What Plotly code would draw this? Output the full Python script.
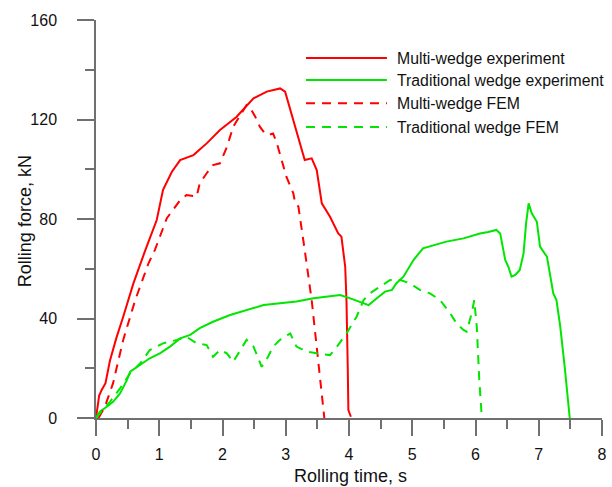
import plotly.graph_objects as go

# ---- data ----
multi_exp_t = [0, 0.05, 0.09, 0.15, 0.22, 0.32, 0.43, 0.59, 0.78, 0.96, 1.06, 1.2, 1.33, 1.54, 1.75,
               1.96, 2.22, 2.49, 2.70, 2.91, 2.99, 3.12, 3.23, 3.30, 3.41, 3.49, 3.57, 3.70, 3.83,
               3.88, 3.94, 3.96, 3.98, 3.99, 4.03]
multi_exp_f = [0, 9, 11.3, 14, 23, 32, 40.7, 54, 67.5, 79.6, 91.7, 99, 103.7, 105.7, 110.4,
               115.8, 121, 128.5, 131.2, 132.5, 131.2, 119.8, 110.4, 103.7, 104.4, 99.7, 86.3, 80.9, 74.2,
               72.9, 60.8, 47.4, 20.6, 3.2, 0.5]

multi_fem_t = [0.04, 0.08, 0.14, 0.27, 0.43, 0.62, 0.83, 0.93, 1.12, 1.33, 1.43, 1.59, 1.64, 1.75,
               1.85, 1.96, 2.07, 2.17, 2.28, 2.38, 2.43, 2.52, 2.59, 2.67, 2.73, 2.80, 2.86, 2.96,
               3.01, 3.12, 3.15, 3.20, 3.25, 3.30, 3.41, 3.49, 3.59, 3.61]
multi_fem_f = [0, 2, 4.5, 14, 31.4, 47.4, 62.2, 67.5, 80.3, 87.6, 89.6, 89, 94.3, 98.4,
               101.7, 102.4, 109, 117.1, 121.8, 125.8, 125.1, 121, 117.1, 114.4, 113.8, 114.4, 110.4, 101,
               97, 90.3, 86.3, 85, 76.9, 67.5, 47.4, 27.3, 4.5, 0]

trad_exp_t = [0, 0.06, 0.17, 0.27, 0.38, 0.49, 0.54, 0.70, 0.85, 1.01, 1.17, 1.33, 1.49, 1.64, 1.85,
              2.12, 2.38, 2.65, 2.91, 3.17, 3.44, 3.65, 3.86, 4.02, 4.17, 4.31, 4.44, 4.57, 4.68,
              4.75, 4.86, 5.02, 5.17, 5.33, 5.54, 5.81, 6.07, 6.20, 6.33, 6.39, 6.47, 6.52, 6.57,
              6.63, 6.70, 6.76, 6.80, 6.84, 6.89, 6.97, 7.02, 7.13, 7.23, 7.28, 7.34, 7.41, 7.49]
trad_exp_f = [0, 2.5, 4.5, 6.5, 9.9, 15.3, 18.6, 21.3, 24, 26, 28.7, 32, 33.4, 36.1, 38.7,
              41.4, 43.4, 45.4, 46.1, 46.8, 48.1, 48.8, 49.4, 48.1, 46.8, 45.4, 48.1, 50.8, 51.5,
              54.2, 56.8, 63.5, 68.2, 69.5, 70.9, 72.2, 74.2, 74.8, 75.6, 74.2, 63.5, 60.8, 56.8,
              57.5, 59.5, 66.2, 78.3, 86.3, 82.3, 78.9, 68.9, 64.8, 50.1, 47.4, 36.7, 20.6, 0]

trad_fem_t = [0, 0.22, 0.38, 0.54, 0.70, 0.85, 1.06, 1.28, 1.43, 1.59, 1.75, 1.85, 1.96, 2.07,
              2.17, 2.28, 2.38, 2.49, 2.62, 2.72, 2.80, 2.91, 3.07, 3.17, 3.33, 3.49, 3.70, 3.81,
              3.96, 4.12, 4.23, 4.33, 4.49, 4.65, 4.81, 4.96, 5.12, 5.28, 5.44, 5.60, 5.70, 5.81,
              5.86, 5.94, 5.98, 6.02, 6.06, 6.10]
trad_fem_f = [0, 6.5, 11.9, 18, 22, 27.3, 30, 31.4, 32.7, 30, 29.3, 24.6, 27.3, 26,
              22.6, 27.3, 31.4, 28.7, 20.6, 24.6, 28.7, 31.4, 34, 28.7, 26.7, 26, 25.3, 28.7,
              34, 40.7, 47.4, 50.1, 52.8, 55.5, 55.5, 54.2, 51.5, 50.1, 47.4, 42.1, 38, 35.4,
              34.7, 42.1, 47.4, 36.7, 15.3, 0]

series_names = ["Multi-wedge experiment", "Traditional wedge experiment",
                "Multi-wedge FEM", "Traditional wedge FEM"]
x_title = "Rolling time, s"
y_title = "Rolling force, kN"

RED = "#FF0000"
GREEN = "#00E600"
DASH = "9px,7px"
FONT = "Liberation Sans, Arial, sans-serif"
TXT = "#111"

series = [
    (multi_exp_t, multi_exp_f, RED, "solid"),
    (trad_exp_t, trad_exp_f, GREEN, "solid"),
    (multi_fem_t, multi_fem_f, RED, DASH),
    (trad_fem_t, trad_fem_f, GREEN, DASH),
]

fig = go.Figure()
for (t, f, c, d), name in zip(series, series_names):
    fig.add_trace(go.Scatter(x=t, y=f, mode="lines", name=name, hoverinfo="skip",
                             line=dict(color=c, width=2, dash=d), showlegend=False))

# custom legend (long sample lines as in the original)
leg_rows = [0.9045, 0.849, 0.791, 0.731]
for (t, f, c, d), name, yy in zip(series, series_names, leg_rows):
    fig.add_shape(type="line", xref="paper", yref="paper", x0=0.415, x1=0.575, y0=yy, y1=yy,
                  line=dict(color=c, width=2, dash=d))
    fig.add_annotation(xref="paper", yref="paper", x=0.591, y=yy, text=name, showarrow=False,
                       xanchor="left", yanchor="middle", font=dict(size=15.8, color=TXT, family=FONT))

# axis titles as annotations (precise placement)
fig.add_annotation(xref="paper", yref="paper", x=-0.140, y=0.495, text=y_title, showarrow=False,
                   textangle=-90, xanchor="center", yanchor="middle",
                   font=dict(size=18, color=TXT, family=FONT))
fig.add_annotation(xref="paper", yref="paper", x=0.503, y=-0.146, text=x_title, showarrow=False,
                   xanchor="center", yanchor="middle",
                   font=dict(size=18, color=TXT, family=FONT))

AX = "#707070"
fig.update_xaxes(range=[0, 8], dtick=1, tick0=0, showgrid=False, zeroline=False, automargin=False,
                 showline=True, linecolor=AX, linewidth=1.5,
                 ticks="outside", ticklen=16, tickwidth=1.5, tickcolor=AX,
                 minor=dict(dtick=0.5, ticks="outside", ticklen=9, tickwidth=1.5, tickcolor=AX),
                 ticklabelstandoff=5,
                 tickfont=dict(size=16, color=TXT, family=FONT))
fig.update_yaxes(range=[0, 160], dtick=40, tick0=0, showgrid=False, zeroline=False, automargin=False,
                 showline=True, linecolor=AX, linewidth=1.5,
                 ticks="outside", ticklen=17, tickwidth=1.5, tickcolor=AX,
                 minor=dict(dtick=20, ticks="outside", ticklen=9, tickwidth=1.5, tickcolor=AX),
                 ticklabelstandoff=17,
                 tickfont=dict(size=16, color=TXT, family=FONT))

fig.update_layout(width=612, height=487, margin=dict(l=96, r=10, t=20, b=69, autoexpand=False),
                  paper_bgcolor="white", plot_bgcolor="white", hovermode=False,
                  font=dict(family=FONT))

# remove the default page-body margin so the figure sits at the window's top-left corner
fig.write_html("out.html", config={"displayModeBar": False},
               post_script="document.body.style.margin='0';document.body.style.overflow='hidden';")
